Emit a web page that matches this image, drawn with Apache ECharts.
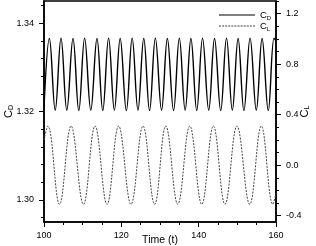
<!DOCTYPE html>
<html><head><meta charset="utf-8">
<script src="https://cdn.jsdelivr.net/npm/echarts@6/dist/echarts.min.js"></script>
<style>html,body{margin:0;padding:0;background:#fff}#c{width:316px;height:246px}</style>
</head><body><div id="c"></div>
<script>
// Drag coefficient C_D: time of peaks/troughs
const cdTime = [100.0, 101.4, 102.9, 104.4, 105.9, 107.5, 109.0, 110.5, 112.1, 113.7, 115.2, 116.7, 118.2, 119.7, 121.3, 122.8, 124.3, 125.8, 127.3, 128.8, 130.4, 131.9, 133.5, 135.0, 136.5, 138.0, 139.5, 141.0, 142.6, 144.1, 145.7, 147.2, 148.7, 150.2, 151.7, 153.3, 154.9, 156.4, 158.0, 159.5, 160.0];
const cdValue = [1.3208, 1.3365, 1.3203, 1.3366, 1.3203, 1.3365, 1.3202, 1.3366, 1.3203, 1.3365, 1.3202, 1.3366, 1.3203, 1.3365, 1.3202, 1.3366, 1.3203, 1.3365, 1.3202, 1.3366, 1.3203, 1.3365, 1.3202, 1.3366, 1.3203, 1.3365, 1.3202, 1.3366, 1.3203, 1.3365, 1.3202, 1.3366, 1.3203, 1.3365, 1.3202, 1.3366, 1.3203, 1.3365, 1.3202, 1.3366, 1.3360];
// Lift coefficient C_L
const clTime = [100.0, 101.0, 104.0, 107.0, 110.2, 113.2, 116.3, 119.3, 122.5, 125.6, 128.6, 131.5, 134.6, 137.7, 140.8, 143.8, 146.8, 149.9, 153.2, 156.2, 159.2, 160.0];
const clValue = [0.20, 0.31, -0.31, 0.31, -0.31, 0.31, -0.31, 0.31, -0.31, 0.31, -0.31, 0.31, -0.31, 0.31, -0.31, 0.31, -0.31, 0.31, -0.31, 0.31, -0.31, -0.22];

const xTicks = [100, 120, 140, 160];
const cdTicks = [1.30, 1.32, 1.34];
const cdMinorTicks = [1.296, 1.300, 1.304, 1.308, 1.312, 1.316, 1.320, 1.324, 1.328, 1.332, 1.336, 1.340, 1.344];
const clTicks = [-0.4, 0.0, 0.4, 0.8, 1.2];
const clMinorTicks = [-0.4, -0.3, -0.2, -0.1, 0.0, 0.1, 0.2, 0.3, 0.4, 0.5, 0.6, 0.7, 0.8, 0.9, 1.0, 1.1, 1.2, 1.3];

const font = 'Liberation Sans, Arial, sans-serif';
const sub = {
  c: {fontSize: 11, fontFamily: font, color: '#000', lineHeight: 14, verticalAlign: 'bottom'},
  s: {fontSize: 7, fontFamily: font, color: '#000', lineHeight: 14, verticalAlign: 'bottom', padding: [0, 0, -1, 0]}
};
const subSmall = {
  c: {fontSize: 9.5, fontFamily: font, color: '#000', lineHeight: 10, verticalAlign: 'bottom'},
  s: {fontSize: 6, fontFamily: font, color: '#000', lineHeight: 10, verticalAlign: 'bottom', padding: [0, 0, -1, 0]}
};

const axisLine = {show: true, onZero: false, lineStyle: {color: '#000', width: 1.5}};
const chart = echarts.init(document.getElementById('c'), null, {renderer: 'canvas'});
chart.setOption({
  animation: false,
  backgroundColor: '#fff',
  grid: {left: 44, right: 40, top: 1, bottom: 24, outerBoundsMode: 'none', containLabel: false, show: true, borderColor: '#000', borderWidth: 1.5, backgroundColor: 'transparent'},
  legend: {
    orient: 'vertical', left: 214, top: 5, itemGap: 0, itemWidth: 36, itemHeight: 8,
    formatter: n => n === 'CD' ? '{c|C}{s|D}' : '{c|C}{s|L}',
    textStyle: {rich: subSmall},
    data: [{name: 'CD', icon: 'path://M0,0 L36,0 L36,1 L0,1 Z', itemStyle: {color: '#000'}},
           {name: 'CL', icon: 'path://M0,0 L2,0 L2,1 L0,1 Z M3,0 L5,0 L5,1 L3,1 Z M6,0 L8,0 L8,1 L6,1 Z M9,0 L11,0 L11,1 L9,1 Z M12,0 L14,0 L14,1 L12,1 Z M15,0 L17,0 L17,1 L15,1 Z M18,0 L20,0 L20,1 L18,1 Z M21,0 L23,0 L23,1 L21,1 Z M24,0 L26,0 L26,1 L24,1 Z M27,0 L29,0 L29,1 L27,1 Z M30,0 L32,0 L32,1 L30,1 Z M33,0 L35,0 L35,1 L33,1 Z', itemStyle: {color: '#444'}}]
  },
  xAxis: {
    type: 'value', min: 100, max: 160, interval: 20,
    name: 'Time (t)', nameLocation: 'middle', nameGap: 13, nameMoveOverlap: false,
    nameTextStyle: {fontSize: 10.5, fontFamily: font, color: '#000'},
    axisLine: axisLine,
    axisTick: {show: true, inside: false, length: 5, lineStyle: {color: '#000', width: 1}, customValues: xTicks},
    minorTick: {show: true, splitNumber: 4, length: 3, lineStyle: {color: '#000', width: 1}},
    axisLabel: {fontSize: 9, fontFamily: font, color: '#000', margin: 9, customValues: xTicks, formatter: v => String(v)},
    splitLine: {show: false}
  },
  yAxis: [
    {
      type: 'value', position: 'left', min: 1.295, max: 1.345,
      name: '{c|C}{s|D}', nameLocation: 'middle', nameGap: 30, nameRotate: 90, nameMoveOverlap: false,
      nameTextStyle: {rich: sub},
      axisLine: axisLine,
      axisTick: {show: true, length: 5, lineStyle: {color: '#000', width: 1}, customValues: cdTicks},
      axisLabel: {fontSize: 9, fontFamily: font, color: '#000', margin: 10, customValues: cdTicks, formatter: v => v.toFixed(2)},
      splitLine: {show: false}
    },
    {
      type: 'value', position: 'right', min: -0.45, max: 1.3,
      name: '{c|C}{s|L}', nameLocation: 'middle', nameGap: 20, nameRotate: 90, nameMoveOverlap: false,
      nameTextStyle: {rich: sub},
      axisLine: axisLine,
      axisTick: {show: true, length: 5, lineStyle: {color: '#000', width: 1}, customValues: clTicks},
      axisLabel: {fontSize: 9, fontFamily: font, color: '#000', margin: 10, customValues: clTicks, formatter: v => v.toFixed(1)},
      splitLine: {show: false}
    },
    {
      type: 'value', position: 'left', offset: 0, min: 1.295, max: 1.345,
      axisLine: {show: false},
      axisTick: {show: true, length: 3, lineStyle: {color: '#000', width: 1}, customValues: cdMinorTicks},
      axisLabel: {show: false}, splitLine: {show: false}
    },
    {
      type: 'value', position: 'right', offset: 0, min: -0.45, max: 1.3,
      axisLine: {show: false},
      axisTick: {show: true, length: 3, lineStyle: {color: '#000', width: 1}, customValues: clMinorTicks},
      axisLabel: {show: false}, splitLine: {show: false}
    }
  ],
  series: [
    {
      name: 'CD', type: 'line', yAxisIndex: 0, smooth: 0.4, symbol: 'none',
      lineStyle: {color: '#000', width: 1.4},
      itemStyle: {color: '#000'},
      data: cdTime.map((t, i) => [t, cdValue[i]])
    },
    {
      name: 'CL', type: 'line', yAxisIndex: 1, smooth: 0.4, symbol: 'none',
      lineStyle: {color: '#444', width: 1, type: [2, 1.3]},
      itemStyle: {color: '#444'},
      data: clTime.map((t, i) => [t, clValue[i]])
    }
  ]
});
</script>
</body></html>
